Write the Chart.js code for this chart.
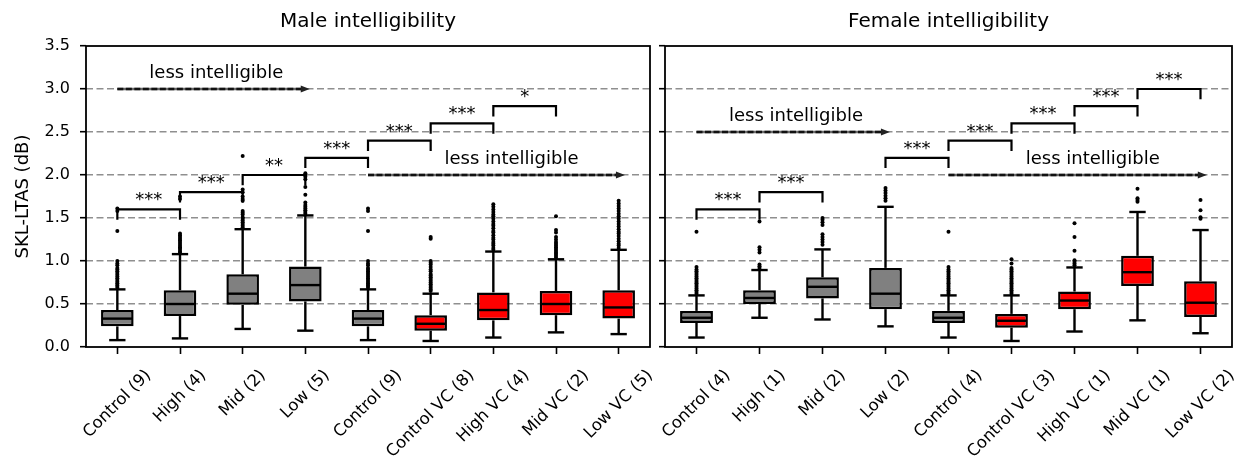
<!DOCTYPE html>
<html>
<head>
<meta charset="utf-8">
<script src="https://cdn.jsdelivr.net/npm/chart.js@4.4.1/dist/chart.umd.min.js"></script>
<style>
  html, body { margin: 0; padding: 0; background: #fff; }
  #wrap { position: relative; width: 1242px; height: 463px; overflow: hidden; }
  canvas { position: absolute; top: 0; }
</style>
</head>
<body>
<div id="wrap">
  <canvas id="male" width="660" height="463" style="left:0"></canvas>
  <canvas id="female" width="587" height="463" style="left:655px"></canvas>
</div>
<script>
// categories
const maleLabels = ['Control (9)', 'High (4)', 'Mid (2)', 'Low (5)', 'Control (9)', 'Control VC (8)', 'High VC (4)', 'Mid VC (2)', 'Low VC (5)'];
const femaleLabels = ['Control (4)', 'High (1)', 'Mid (2)', 'Low (2)', 'Control (4)', 'Control VC (3)', 'High VC (1)', 'Mid VC (1)', 'Low VC (2)'];
const yTicks = [0, 0.5, 1, 1.5, 2, 2.5, 3, 3.5];

// male box stats
const maleLow = [0.08, 0.10, 0.21, 0.19, 0.08, 0.07, 0.11, 0.17, 0.15];
const maleQ1 = [0.24, 0.36, 0.49, 0.53, 0.24, 0.19, 0.31, 0.37, 0.33];
const maleMedian = [0.33, 0.50, 0.62, 0.72, 0.33, 0.27, 0.43, 0.50, 0.46];
const maleQ3 = [0.43, 0.66, 0.845, 0.935, 0.43, 0.37, 0.635, 0.65, 0.66];
const maleHigh = [0.67, 1.08, 1.37, 1.53, 0.67, 0.62, 1.11, 1.02, 1.13];
const maleOutliers = [
  [0.69, 0.71, 0.72, 0.74, 0.76, 0.78, 0.8, 0.82, 0.84, 0.86, 0.88, 0.9, 0.92, 0.95, 0.97, 1.0, 1.35, 1.58, 1.61],
  [1.1, 1.11, 1.13, 1.15, 1.16, 1.18, 1.2, 1.22, 1.24, 1.26, 1.28, 1.3, 1.32, 1.72, 1.75],
  [1.39, 1.41, 1.43, 1.45, 1.47, 1.49, 1.51, 1.54, 1.56, 1.58, 1.7, 1.72, 1.75, 1.8, 1.83, 2.22],
  [1.55, 1.57, 1.59, 1.61, 1.63, 1.65, 1.68, 1.77, 1.86, 1.95, 1.98, 2.0, 2.02],
  [0.69, 0.71, 0.72, 0.74, 0.76, 0.78, 0.8, 0.82, 0.84, 0.86, 0.88, 0.9, 0.92, 0.95, 0.97, 1.0, 1.35, 1.58, 1.61],
  [0.65, 0.67, 0.69, 0.71, 0.73, 0.75, 0.77, 0.79, 0.81, 0.83, 0.85, 0.88, 0.9, 0.93, 0.96, 0.98, 1.0, 1.26, 1.28],
  [1.13, 1.15, 1.18, 1.2, 1.22, 1.25, 1.27, 1.3, 1.33, 1.35, 1.38, 1.41, 1.43, 1.46, 1.49, 1.52, 1.54, 1.57, 1.6, 1.63, 1.66],
  [1.04, 1.06, 1.08, 1.1, 1.12, 1.14, 1.16, 1.18, 1.2, 1.22, 1.25, 1.28, 1.33, 1.36, 1.52],
  [1.15, 1.18, 1.2, 1.23, 1.26, 1.29, 1.32, 1.34, 1.37, 1.4, 1.43, 1.46, 1.49, 1.52, 1.55, 1.58, 1.61, 1.64, 1.67, 1.7]
];

// female box stats
const femaleLow = [0.11, 0.34, 0.32, 0.24, 0.11, 0.07, 0.18, 0.31, 0.16];
const femaleQ1 = [0.28, 0.50, 0.565, 0.44, 0.28, 0.225, 0.44, 0.71, 0.35];
const femaleMedian = [0.34, 0.57, 0.70, 0.62, 0.34, 0.305, 0.54, 0.87, 0.515];
const femaleQ3 = [0.42, 0.66, 0.81, 0.92, 0.42, 0.385, 0.645, 1.06, 0.765];
const femaleHigh = [0.60, 0.895, 1.135, 1.63, 0.60, 0.60, 0.925, 1.57, 1.36];
const femaleOutliers = [
  [0.62, 0.64, 0.66, 0.68, 0.7, 0.72, 0.74, 0.76, 0.78, 0.8, 0.82, 0.84, 0.86, 0.88, 0.9, 0.93, 1.34],
  [0.92, 0.94, 0.96, 1.1, 1.13, 1.16, 1.46],
  [1.19, 1.22, 1.25, 1.28, 1.31, 1.42, 1.45, 1.48, 1.5],
  [1.7, 1.73, 1.76, 1.79, 1.82, 1.85],
  [0.62, 0.64, 0.66, 0.68, 0.7, 0.72, 0.74, 0.76, 0.78, 0.8, 0.82, 0.84, 0.86, 0.88, 0.9, 0.93, 1.34],
  [0.62, 0.64, 0.66, 0.68, 0.7, 0.72, 0.74, 0.76, 0.78, 0.8, 0.82, 0.84, 0.86, 0.88, 0.9, 0.92, 0.97, 1.02],
  [0.95, 0.97, 0.99, 1.01, 1.12, 1.28, 1.44],
  [1.69, 1.71, 1.73, 1.84],
  [1.49, 1.51, 1.59, 1.71]
];

// significance brackets: pairs of category indices, bracket level, label
const maleSigPairs = [[0, 1], [1, 2], [2, 3], [3, 4], [4, 5], [5, 6], [6, 7]];
const maleSigLevels = [1.6, 1.8, 2.0, 2.2, 2.4, 2.6, 2.8];
const maleSigText = ['***', '***', '**', '***', '***', '***', '*'];
const femaleSigPairs = [[0, 1], [1, 2], [3, 4], [4, 5], [5, 6], [6, 7], [7, 8]];
const femaleSigLevels = [1.6, 1.8, 2.2, 2.4, 2.6, 2.8, 3.0];
const femaleSigText = ['***', '***', '***', '***', '***', '***', '***'];

// "less intelligible" arrows: start, end, level, text centre
const maleArrows = [[0, 3.07, 3.0, 1.58], [4, 8.1, 2.0, 6.29]];
const femaleArrows = [[0, 3.07, 2.5, 1.58], [4, 8.1, 2.0, 6.29]];

const FONT = '"DejaVu Sans", sans-serif';
const boxColors = ['#808080', '#808080', '#808080', '#808080', '#808080', '#ff0000', '#ff0000', '#ff0000', '#ff0000'];

function line(ctx, x1, y1, x2, y2) {
  ctx.beginPath();
  ctx.moveTo(x1, y1);
  ctx.lineTo(x2, y2);
  ctx.stroke();
}

const boxExtras = {
  id: 'boxExtras',
  afterDatasetsDraw(chart, args, o) {
    const ctx = chart.ctx;
    const xs = chart.scales.xs, y = chart.scales.y;
    const step = xs.getPixelForValue(1) - xs.getPixelForValue(0);
    const half = step * 0.25, cap = step * 0.13;
    ctx.save();
    ctx.strokeStyle = '#000';
    ctx.lineWidth = 2.4;
    ctx.lineCap = 'butt';
    o.median.forEach((m, i) => {
      const cx = xs.getPixelForValue(i);
      const yh = y.getPixelForValue(o.high[i]), yl = y.getPixelForValue(o.low[i]);
      line(ctx, cx, y.getPixelForValue(o.q3[i]), cx, yh);
      line(ctx, cx, y.getPixelForValue(o.q1[i]), cx, yl);
      line(ctx, cx - cap, yh, cx + cap, yh);
      line(ctx, cx - cap, yl, cx + cap, yl);
      const ym = y.getPixelForValue(m);
      line(ctx, cx - half + 1, ym, cx + half - 1, ym);
    });

    // significance brackets
    ctx.lineWidth = 2.2;
    ctx.fillStyle = '#000';
    ctx.font = '18px ' + FONT;
    ctx.textAlign = 'center';
    ctx.textBaseline = 'alphabetic';
    o.sigPairs.forEach((p, k) => {
      const x1 = xs.getPixelForValue(p[0]), x2 = xs.getPixelForValue(p[1]);
      const yb = y.getPixelForValue(o.sigLevels[k]);
      const yd = y.getPixelForValue(o.sigLevels[k] - 0.12);
      ctx.beginPath();
      ctx.moveTo(x1, yd);
      ctx.lineTo(x1, yb);
      ctx.lineTo(x2, yb);
      ctx.lineTo(x2, yd);
      ctx.stroke();
      ctx.fillText(o.sigText[k], (x1 + x2) / 2, yb - 4);
    });

    // arrows
    o.arrows.forEach(a => {
      const x1 = xs.getPixelForValue(a[0]), x2 = xs.getPixelForValue(a[1]);
      const ya = y.getPixelForValue(a[2]);
      ctx.save();
      ctx.strokeStyle = '#6a6a6a';
      ctx.lineWidth = 2.6;
      line(ctx, x1, ya, x2 - 6, ya);
      ctx.strokeStyle = '#111';
      ctx.setLineDash([6, 2.5]);
      line(ctx, x1, ya, x2 - 6, ya);
      ctx.restore();
      ctx.fillStyle = '#222';
      ctx.beginPath();
      ctx.moveTo(x2, ya);
      ctx.lineTo(x2 - 9, ya - 3.5);
      ctx.lineTo(x2 - 9, ya + 3.5);
      ctx.closePath();
      ctx.fill();
      ctx.fillStyle = '#000';
      ctx.textBaseline = 'middle';
      ctx.fillText('less intelligible', xs.getPixelForValue(a[3]), y.getPixelForValue(a[2] + 0.18));
      ctx.textBaseline = 'alphabetic';
    });
    ctx.restore();
  },
  afterDraw(chart, args, o) {
    const ctx = chart.ctx, area = chart.chartArea;
    const x = chart.scales.x;
    ctx.save();
    ctx.strokeStyle = '#000';
    ctx.lineWidth = 1.8;
    ctx.strokeRect(area.left, area.top, area.right - area.left, area.bottom - area.top);

    // rotated category labels, centred on their ticks
    ctx.fillStyle = '#000';
    ctx.font = '16.5px ' + FONT;
    ctx.textAlign = 'center';
    ctx.textBaseline = 'middle';
    const h = 16.5 * 1.17;
    const y0 = area.bottom + 19;
    chart.data.labels.forEach((lab, i) => {
      const w = ctx.measureText(lab).width;
      const d = (w + h) / Math.SQRT2;
      ctx.save();
      ctx.translate(x.getPixelForValue(i), y0 + d / 2);
      ctx.rotate(-Math.PI / 4);
      ctx.fillText(lab, 0, 0);
      ctx.restore();
    });
    ctx.restore();
  }
};

function makeChart(id, title, labels, low, q1, med, q3, high, outliers, sigPairs, sigLevels, sigText, arrows, isLeft) {
  const points = [];
  outliers.forEach((list, i) => list.forEach(v => points.push({ x: i, y: v })));
  return new Chart(document.getElementById(id), {
    type: 'bar',
    data: {
      labels: labels,
      datasets: [
        {
          type: 'bar',
          data: q1.map((v, i) => [v, q3[i]]),
          backgroundColor: boxColors,
          borderColor: '#000',
          borderWidth: 2.5,
          borderSkipped: false,
          grouped: false,
          barPercentage: 0.52,
          categoryPercentage: 1,
          xAxisID: 'x',
          yAxisID: 'y'
        },
        {
          type: 'scatter',
          data: points,
          xAxisID: 'xs',
          yAxisID: 'y',
          pointRadius: 2,
          pointBackgroundColor: '#000',
          pointBorderWidth: 0
        }
      ]
    },
    options: {
      responsive: false,
      animation: false,
      events: [],
      layout: { padding: { left: 0, right: 10, top: 0, bottom: 0 } },
      plugins: {
        legend: { display: false },
        tooltip: { enabled: false },
        title: {
          display: true,
          text: title,
          fullSize: false,
          color: '#000',
          font: { family: FONT, size: 20, weight: 'normal' },
          padding: { top: 10, bottom: 12 }
        },
        boxExtras: { low, q1, median: med, q3, high, sigPairs, sigLevels, sigText, arrows }
      },
      scales: {
        x: {
          type: 'category',
          offset: true,
          grid: { display: true, drawOnChartArea: false, drawTicks: true, tickLength: 7, tickWidth: 1.6, tickColor: '#000', offset: false },
          border: { display: false },
          ticks: { display: false },
          afterFit: s => { s.height = 116; }
        },
        xs: { type: 'linear', display: false, offset: false, min: -0.5, max: 8.5, grid: { offset: false } },
        y: {
          type: 'linear',
          min: 0,
          max: 3.5,
          afterBuildTicks: s => { s.ticks = yTicks.map(v => ({ value: v })); },
          afterFit: s => { s.width = isLeft ? 86 : 10; },
          ticks: {
            display: isLeft,
            color: '#000',
            font: { family: FONT, size: 16 },
            padding: 10,
            callback: v => v.toFixed(1)
          },
          grid: {
            color: c => (c.tick && c.tick.value > 0.01 && c.tick.value < 3.49) ? '#8f8f8f' : 'rgba(0,0,0,0)',
            lineWidth: 1.4,
            tickColor: '#000',
            tickLength: 6,
            tickWidth: 1.6
          },
          border: { display: false, dash: [7, 3.5] },
          title: {
            display: isLeft,
            text: 'SKL-LTAS (dB)',
            color: '#000',
            font: { family: FONT, size: 18 },
            padding: { top: 13, bottom: 0 }
          }
        }
      }
    },
    plugins: [boxExtras]
  });
}

makeChart('male', 'Male intelligibility', maleLabels, maleLow, maleQ1, maleMedian, maleQ3, maleHigh, maleOutliers,
  maleSigPairs, maleSigLevels, maleSigText, maleArrows, true);
makeChart('female', 'Female intelligibility', femaleLabels, femaleLow, femaleQ1, femaleMedian, femaleQ3, femaleHigh, femaleOutliers,
  femaleSigPairs, femaleSigLevels, femaleSigText, femaleArrows, false);
</script>
</body>
</html>
